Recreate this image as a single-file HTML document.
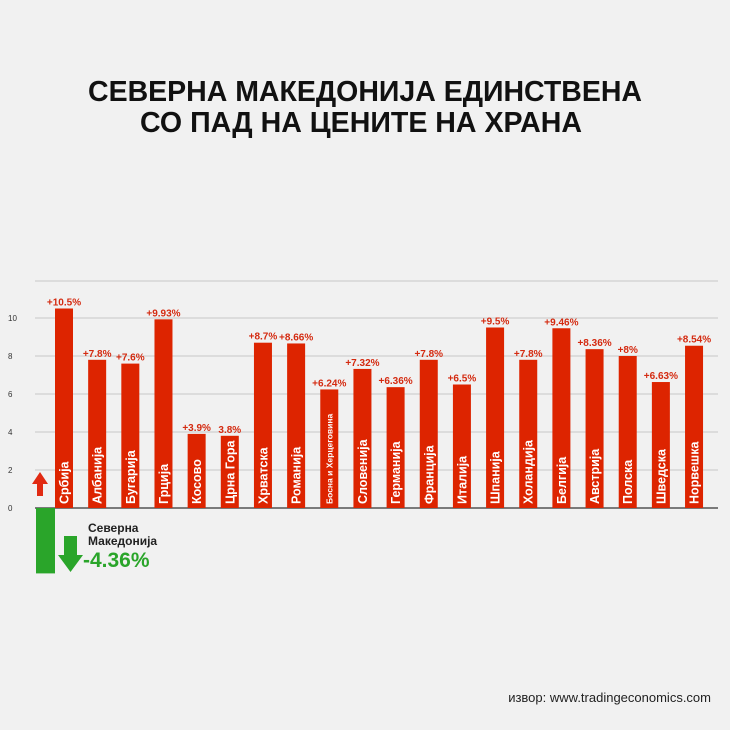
<!DOCTYPE html>
<html><head><meta charset="utf-8"><style>
html,body{margin:0;padding:0;background:#f2f2f2;}
svg{display:block;font-family:"Liberation Sans","DejaVu Sans",sans-serif;}
</style></head><body>
<svg id="chart" width="730" height="730" viewBox="0 0 730 730">
<rect x="0" y="0" width="730" height="730" fill="#f1f1f1"/>
<text x="88" y="101" textLength="554" lengthAdjust="spacingAndGlyphs" font-size="29" font-weight="bold" fill="#111">СЕВЕРНА МАКЕДОНИЈА ЕДИНСТВЕНА</text>
<text x="140" y="132" textLength="442" lengthAdjust="spacingAndGlyphs" font-size="29" font-weight="bold" fill="#111">СО ПАД НА ЦЕНИТЕ НА ХРАНА</text>
<g id="grid"></g>
<g id="bars"></g>
<g>
<rect id="negbar" fill="#2aa52a"/>
<polygon points="37,496 37,484 32,484 40,472 48,484 43,484 43,496" fill="#e12a12"/>
<polygon points="64,536 77,536 77,555 83,555 70.5,572 58,555 64,555" fill="#2aa52a"/>
<text x="88" y="532" font-size="12" font-weight="bold" fill="#222">Северна</text>
<text x="88" y="545" font-size="12" font-weight="bold" fill="#222">Македонија</text>
<text id="negval" x="83" y="567" font-size="21" font-weight="bold" fill="#2aa52a"></text>
</g>
<text x="711" y="702" text-anchor="end" font-size="13" fill="#222">извор: www.tradingeconomics.com</text>
</svg>
<script>
const categories=["Србија","Албанија","Бугарија","Грција","Косово","Црна Гора","Хрватска","Романија","Босна и Херцеговина","Словенија","Германија","Франција","Италија","Шпанија","Холандија","Белгија","Австрија","Полска","Шведска","Норвешка"];
const values=[10.5,7.8,7.6,9.93,3.9,3.8,8.7,8.66,6.24,7.32,6.36,7.8,6.5,9.5,7.8,9.46,8.36,8,6.63,8.54];
const valueLabels=["+10.5%","+7.8%","+7.6%","+9.93%","+3.9%","3.8%","+8.7%","+8.66%","+6.24%","+7.32%","+6.36%","+7.8%","+6.5%","+9.5%","+7.8%","+9.46%","+8.36%","+8%","+6.63%","+8.54%"];
const yTicks=[0,2,4,6,8,10];
const negValue=-4.36;
const negLabel="-4.36%";
const NS="http://www.w3.org/2000/svg";
const y0=508, unit=19, x0=55, pitch=33.16, bw=18;
const yS=v=>y0-v*unit;
const xS=i=>x0+i*pitch;
function mk(tag,attrs,parent,txt){const e=document.createElementNS(NS,tag);for(const k in attrs)e.setAttribute(k,attrs[k]);if(txt!==undefined)e.textContent=txt;parent.appendChild(e);return e;}
const grid=document.getElementById('grid');
yTicks.forEach(t=>{
  const l=mk('line',{x1:35,x2:718,y1:yS(t),y2:yS(t),stroke:t===0?'#333':'#c8c8c8','stroke-width':t===0?1.2:1},grid);
  
  
  const tx=mk('text',{x:8,y:yS(t)+3,'font-size':8,fill:'#333'},grid,String(t));
  
  
});
const tl=mk('line',{x1:35,x2:718,y1:281,y2:281,stroke:'#c8c8c8'},grid);


const bars=document.getElementById('bars');
categories.forEach((c,i)=>{
  const x=xS(i), top=yS(values[i]);
  const r=mk('rect',{x:x,y:top,width:bw,height:y0-top,fill:'#dd2400'},bars);
  
  
  const v=mk('text',{x:x+bw/2,y:top-3,'text-anchor':'middle','font-size':10,'font-weight':'bold',fill:'#d42a10'},bars,valueLabels[i]);
  
  
  const small=c.length>12;
  const cl=mk('text',{transform:`translate(${x+bw/2+(small?3:4.5)},${y0-4}) rotate(-90)`,'font-size':small?8.5:12.5,'font-weight':'bold',fill:'#fff'},bars,c);
  
  
});
const nb=document.getElementById('negbar');
nb.setAttribute('x',36);nb.setAttribute('y',y0);nb.setAttribute('width',19);nb.setAttribute('height',-negValue*15);
document.getElementById('negval').textContent=negLabel;
</script>
</body></html>
